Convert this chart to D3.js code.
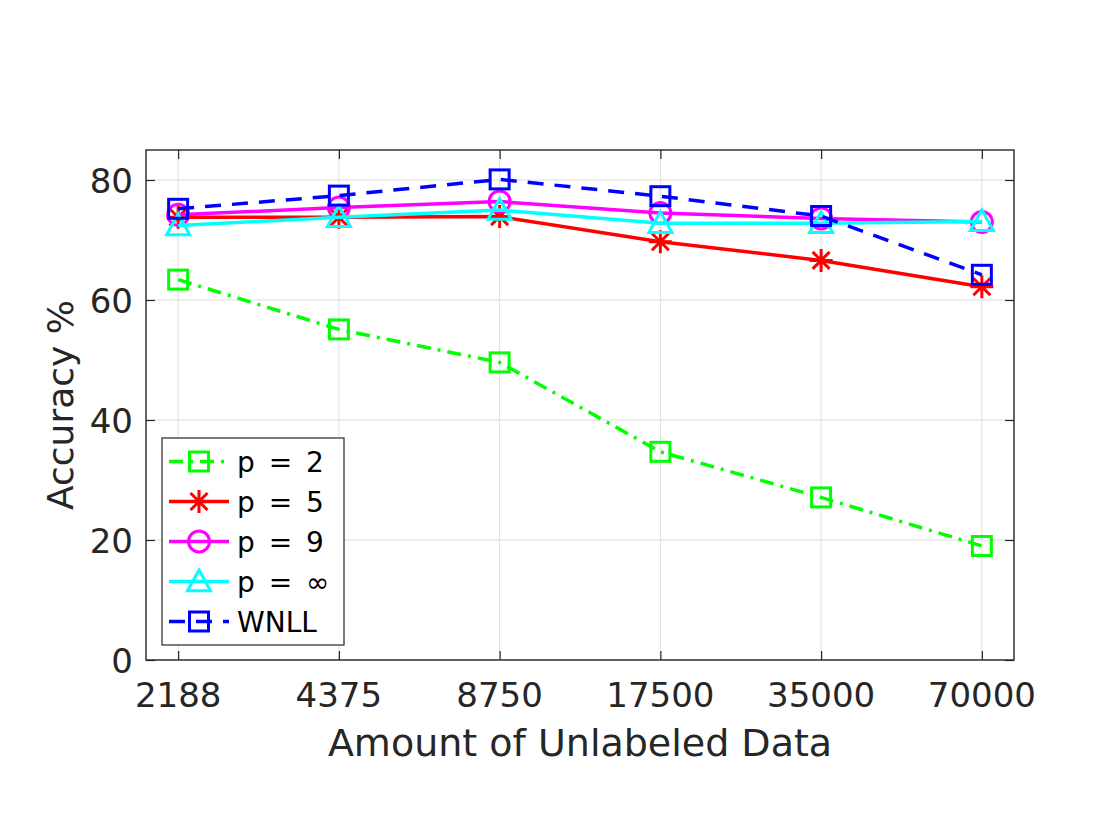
<!DOCTYPE html>
<html>
<head>
<meta charset="utf-8">
<script src="https://cdn.jsdelivr.net/npm/d3@7"></script>
<style>
  body { margin: 0; background: #fff; }
  text { font-family: "DejaVu Sans", sans-serif; fill: #262626; }
</style>
</head>
<body>
<script>
// data
const sizes = ["2188", "4375", "8750", "17500", "35000", "70000"]
const accP2 = [63.4, 55.1, 49.6, 34.7, 27.1, 19.0]
const accP5 = [73.8, 73.8, 73.9, 69.7, 66.6, 62.2]
const accP9 = [74.2, 75.4, 76.4, 74.5, 73.6, 73.0]
const accPinf = [72.4, 73.8, 75.0, 72.8, 72.8, 73.1]
const accWnll = [75.2, 77.4, 80.1, 77.3, 74.0, 64.2]
const seriesNames = ["p = 2", "p = 5", "p = 9", "p = \u221e", "WNLL"]
const yTicks = [0, 20, 40, 60, 80]

const width = 1120
const height = 840
const margin = { top: 150, right: 106, bottom: 180, left: 146 }

const series = [
    { name: seriesNames[0], values: accP2, color: "#00ff00", dash: "14,7,3,7", marker: "square" },
    { name: seriesNames[1], values: accP5, color: "#ff0000", dash: null, marker: "star" },
    { name: seriesNames[2], values: accP9, color: "#ff00ff", dash: null, marker: "circle" },
    { name: seriesNames[3], values: accPinf, color: "#00ffff", dash: null, marker: "triangle" },
    { name: seriesNames[4], values: accWnll, color: "#0000ff", dash: "16,11", marker: "square" }
]

const x = d3.scalePoint()
    .domain(sizes)
    .range([margin.left, width - margin.right])
    .padding(0.2)

const y = d3.scaleLinear()
    .domain([0, 85])
    .range([height - margin.bottom, margin.top])

const svg = d3.select("body")
    .append("svg")
    .attr("width", width)
    .attr("height", height)

const x0 = margin.left, x1 = width - margin.right
const y0 = height - margin.bottom, y1 = margin.top

// grid
svg.append("g")
    .selectAll("line")
    .data(sizes)
    .join("line")
    .attr("x1", d => x(d)).attr("x2", d => x(d))
    .attr("y1", y0).attr("y2", y1)
    .attr("stroke", "#dedede").attr("stroke-width", 1)

svg.append("g")
    .selectAll("line")
    .data(yTicks)
    .join("line")
    .attr("x1", x0).attr("x2", x1)
    .attr("y1", d => y(d)).attr("y2", d => y(d))
    .attr("stroke", "#dedede").attr("stroke-width", 1)

// axes (ticks inside, box on)
const tickLen = 9
const axB = d3.axisBottom(x).tickSizeInner(-tickLen).tickSizeOuter(0).tickFormat("")
const axT = d3.axisTop(x).tickSizeInner(-tickLen).tickSizeOuter(0).tickFormat("")
const axL = d3.axisLeft(y).tickValues(yTicks).tickSizeInner(-tickLen).tickSizeOuter(0).tickFormat("")
const axR = d3.axisRight(y).tickValues(yTicks).tickSizeInner(-tickLen).tickSizeOuter(0).tickFormat("")

function styleAxis(g) {
    g.select(".domain").remove()
    g.selectAll(".tick line").attr("stroke", "#262626").attr("stroke-width", 1.2)
}
svg.append("g").attr("transform", "translate(0," + y0 + ")").call(axB).call(styleAxis)
svg.append("g").attr("transform", "translate(0," + y1 + ")").call(axT).call(styleAxis)
svg.append("g").attr("transform", "translate(" + x0 + ",0)").call(axL).call(styleAxis)
svg.append("g").attr("transform", "translate(" + x1 + ",0)").call(axR).call(styleAxis)

svg.append("rect")
    .attr("x", x0).attr("y", y1)
    .attr("width", x1 - x0).attr("height", y0 - y1)
    .attr("fill", "none")
    .attr("stroke", "#262626")
    .attr("stroke-width", 1.4)

// tick labels
svg.append("g")
    .selectAll("text")
    .data(sizes)
    .join("text")
    .attr("x", d => x(d))
    .attr("y", y0 + 47)
    .attr("text-anchor", "middle")
    .attr("font-size", 34)
    .text(d => d)

svg.append("g")
    .selectAll("text")
    .data(yTicks)
    .join("text")
    .attr("x", x0 - 13)
    .attr("y", d => y(d) + 13)
    .attr("text-anchor", "end")
    .attr("font-size", 34)
    .text(d => d)

// axis titles
svg.append("text")
    .attr("x", (x0 + x1) / 2)
    .attr("y", 756)
    .attr("text-anchor", "middle")
    .attr("font-size", 38)
    .text("Amount of Unlabeled Data")

svg.append("text")
    .attr("transform", "translate(73," + ((y0 + y1) / 2) + ") rotate(-90)")
    .attr("text-anchor", "middle")
    .attr("font-size", 36)
    .text("Accuracy %")

// markers
function drawMarker(g, type, cx, cy, color) {
    if (type == "square") {
        g.append("rect")
            .attr("x", cx - 9.5).attr("y", cy - 9.5)
            .attr("width", 19).attr("height", 19)
            .attr("fill", "none").attr("stroke", color).attr("stroke-width", 3)
    }
    if (type == "circle") {
        g.append("circle")
            .attr("cx", cx).attr("cy", cy).attr("r", 10.5)
            .attr("fill", "none").attr("stroke", color).attr("stroke-width", 3)
    }
    if (type == "triangle") {
        const s = 11.5
        g.append("path")
            .attr("d", "M" + cx + "," + (cy - s) + "L" + (cx + s) + "," + (cy + s * 0.8) + "L" + (cx - s) + "," + (cy + s * 0.8) + "Z")
            .attr("fill", "none").attr("stroke", color).attr("stroke-width", 3)
    }
    if (type == "star") {
        const r = 11.5, d = 8.5
        g.append("path")
            .attr("d", "M" + cx + "," + (cy - r) + "V" + (cy + r) +
                "M" + (cx - r) + "," + cy + "H" + (cx + r) +
                "M" + (cx - d) + "," + (cy - d) + "L" + (cx + d) + "," + (cy + d) +
                "M" + (cx - d) + "," + (cy + d) + "L" + (cx + d) + "," + (cy - d))
            .attr("fill", "none").attr("stroke", color).attr("stroke-width", 3)
    }
}

const lineGenerator = d3.line()
    .x((d, i) => x(sizes[i]))
    .y(d => y(d))

for (const s of series) {
    const g = svg.append("g")
    g.append("path")
        .attr("d", lineGenerator(s.values))
        .attr("fill", "none")
        .attr("stroke", s.color)
        .attr("stroke-width", 3.5)
        .attr("stroke-dasharray", s.dash)
    s.values.forEach((v, i) => drawMarker(g, s.marker, x(sizes[i]), y(v), s.color))
}

// legend
const lg = svg.append("g")
lg.append("rect")
    .attr("x", 162).attr("y", 438)
    .attr("width", 182).attr("height", 207)
    .attr("fill", "#fff")
    .attr("stroke", "#262626")
    .attr("stroke-width", 1.2)

series.forEach((s, i) => {
    const cy = 461.5 + i * 40
    lg.append("line")
        .attr("x1", 169).attr("x2", 229)
        .attr("y1", cy).attr("y2", cy)
        .attr("stroke", s.color)
        .attr("stroke-width", 3.5)
        .attr("stroke-dasharray", s.dash)
    drawMarker(lg, s.marker, 199, cy, s.color)
    lg.append("text")
        .attr("x", 237)
        .attr("y", cy + 10)
        .attr("font-size", 28)
        .attr("word-spacing", 5)
        .style("fill", "#000")
        .text(s.name)
})
</script>
</body>
</html>
